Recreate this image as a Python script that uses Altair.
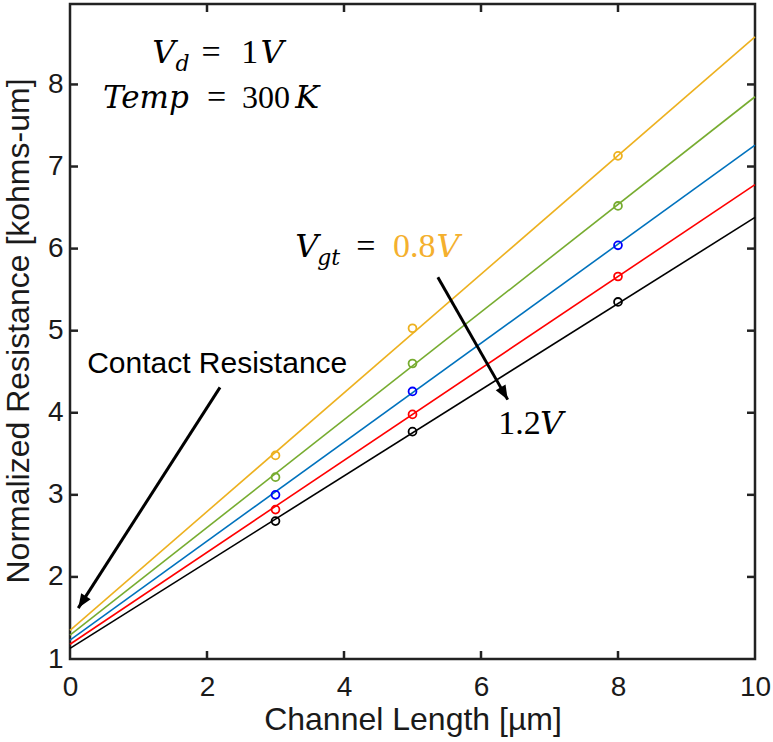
import altair as alt
import pandas as pd

# Gate overdrive of each series and the fitted resistance at L = 0 and L = 10 um
vgt = ["0.8V", "0.9V", "1.0V", "1.1V", "1.2V"]
fit_at_0 = [1.35, 1.29, 1.23, 1.18, 1.13]
fit_at_10 = [8.58, 7.85, 7.26, 6.78, 6.38]

# Measured normalized resistance [kohms-um] at each channel length [um]
lengths = [3, 5, 8]
measured = [
    [3.48, 5.03, 7.13],
    [3.215, 4.60, 6.52],
    [3.00, 4.26, 6.04],
    [2.82, 3.98, 5.66],
    [2.68, 3.77, 5.35],
]

x_ticks = [0, 2, 4, 6, 8, 10]
y_ticks = [1, 2, 3, 4, 5, 6, 7, 8]

# Styling
line_colors = ["#EDB120", "#77AC30", "#0072BD", "#FF0000", "#000000"]
marker_colors = ["#EDB120", "#77AC30", "#0000FF", "#FF0000", "#000000"]
W, H = 685, 655
SANS = "Liberation Sans"
ITAL = "DejaVu Serif"
ROMAN = "Liberation Serif"

lines_df = pd.DataFrame(
    [{"vgt": v, "x": 0, "y": a, "c": c} for v, a, c in zip(vgt, fit_at_0, line_colors)]
    + [{"vgt": v, "x": 10, "y": b, "c": c} for v, b, c in zip(vgt, fit_at_10, line_colors)]
)
points_df = pd.DataFrame(
    [
        {"vgt": v, "x": L, "y": r, "c": c}
        for v, row, c in zip(vgt, measured, marker_colors)
        for L, r in zip(lengths, row)
    ]
)

xs = alt.Scale(domain=[0, 10], nice=False, zero=False)
ys = alt.Scale(domain=[1, 8.98], nice=False, zero=False)

x_axis = alt.Axis(
    values=x_ticks, title="Channel Length [µm]", grid=False, domain=False,
    ticks=False, tickSize=0, labelFont=SANS, labelFontSize=28, labelColor="#1a1a1a",
    labelPadding=14, labelBaseline="top", titleFont=SANS, titleFontSize=32,
    titleFontWeight="normal", titleColor="#1a1a1a", titleY=70,
    titleBaseline="alphabetic", labelFlush=False,
)
y_axis = alt.Axis(
    values=y_ticks, title="Normalized Resistance [kohms-um]", grid=False,
    domain=False, ticks=False, tickSize=0, labelFont=SANS, labelFontSize=28,
    labelColor="#1a1a1a", labelPadding=7, labelBaseline="middle",
    titleFont=SANS, titleFontSize=32, titleFontWeight="normal",
    titleColor="#1a1a1a", titleAngle=270, titleX=-52, titleY=H / 2 - 1,
    titleAlign="center", titleBaseline="middle", labelFlush=False,
)


def X(field):
    return alt.X(field, scale=xs, axis=x_axis)


def Y(field):
    return alt.Y(field, scale=ys, axis=y_axis)


lines = alt.Chart(lines_df).mark_line(strokeWidth=1.6).encode(
    x=X("x:Q"), y=Y("y:Q"), color=alt.Color("c:N", scale=None), detail="vgt:N"
)

points = alt.Chart(points_df).mark_point(
    shape="circle", filled=False, size=62, strokeWidth=1.8, opacity=1
).encode(x=X("x:Q"), y=Y("y:Q"), color=alt.Color("c:N", scale=None))

# Inward-pointing ticks on all four sides of the box
xt = pd.DataFrame({"v": x_ticks[1:-1]})
yt = pd.DataFrame({"v": y_ticks[1:]})
tick_len = 8
tick_style = dict(color="#222222", strokeWidth=2.5)
ticks = [
    alt.Chart(xt).mark_rule(**tick_style).encode(
        x=X("v:Q"), y=alt.value(H), y2=alt.value(H - tick_len)),
    alt.Chart(xt).mark_rule(**tick_style).encode(
        x=X("v:Q"), y=alt.value(0), y2=alt.value(tick_len)),
    alt.Chart(yt).mark_rule(**tick_style).encode(
        y=Y("v:Q"), x=alt.value(0), x2=alt.value(tick_len)),
    alt.Chart(yt).mark_rule(**tick_style).encode(
        y=Y("v:Q"), x=alt.value(W), x2=alt.value(W - tick_len)),
]

# Annotation arrows: tail (x0, y0) -> head (x1, y1)
arrow_x0 = [2.19, 5.37]
arrow_y0 = [4.31, 5.65]
arrow_x1 = [0.12, 6.39]
arrow_y1 = [1.62, 4.16]
arrow_angle = [213, 150]
HEAD = "M0,0 L-0.4,1 L0.4,1 Z"

arrows = []
for x0, y0, x1, y1, ang in zip(arrow_x0, arrow_y0, arrow_x1, arrow_y1, arrow_angle):
    seg = pd.DataFrame({"x0": [x0], "y0": [y0], "x1": [x1], "y1": [y1]})
    arrows.append(
        alt.Chart(seg).mark_rule(color="black", strokeWidth=3).encode(
            x=X("x0:Q"), y=Y("y0:Q"), x2="x1:Q", y2="y1:Q")
    )
    arrows.append(
        alt.Chart(seg).mark_point(
            shape=HEAD, filled=True, size=800, angle=ang, color="black", opacity=1
        ).encode(x=X("x1:Q"), y=Y("y1:Q"))
    )


def label(text, x, y, size=32, font=ITAL, italic=True, color="black"):
    df = pd.DataFrame({"x": [x], "y": [y], "t": [text]})
    kw = dict(align="left", baseline="alphabetic", font=font, fontSize=size, color=color)
    if italic:
        kw["fontStyle"] = "italic"
    return alt.Chart(df).mark_text(**kw).encode(x=X("x:Q"), y=Y("y:Q"), text="t:N")


def roman(text, x, y, color="black", size=34):
    return label(text, x, y, size=size, font=ROMAN, italic=False, color=color)


ORANGE = "#F4B02E"
texts = [
    # V_d = 1V
    label("V", 1.20, 8.26),
    label("d", 1.54, 8.16, size=22),
    roman("=", 1.92, 8.26),
    roman("1", 2.50, 8.26),
    label("V", 2.78, 8.26),
    # Temp = 300K
    label("Temp", 0.48, 7.71, size=31),
    roman("=", 2.00, 7.71),
    roman("300", 2.51, 7.71, size=32),
    label("K", 3.29, 7.71),
    # V_gt = 0.8V
    label("V", 3.29, 5.90),
    label("gt", 3.61, 5.80, size=22),
    roman("=", 4.18, 5.90),
    roman("0.8", 4.715, 5.90, color=ORANGE),
    label("V", 5.35, 5.90, color=ORANGE),
    # 1.2V
    roman("1.2", 6.25, 3.74),
    label("V", 6.86, 3.74),
    label("Contact Resistance", 0.25, 4.49, size=30, font=SANS, italic=False),
]

chart = alt.layer(lines, points, *ticks, *arrows, *texts).properties(
    width=W,
    height=H,
    padding={"left": 70, "top": 4, "right": 18, "bottom": 83},
    autosize=alt.AutoSizeParams(type="none"),
    background="white",
).configure_view(stroke="#222222", strokeWidth=2.5)

chart.save("out.html", embed_options={"renderer": "svg", "actions": False})
